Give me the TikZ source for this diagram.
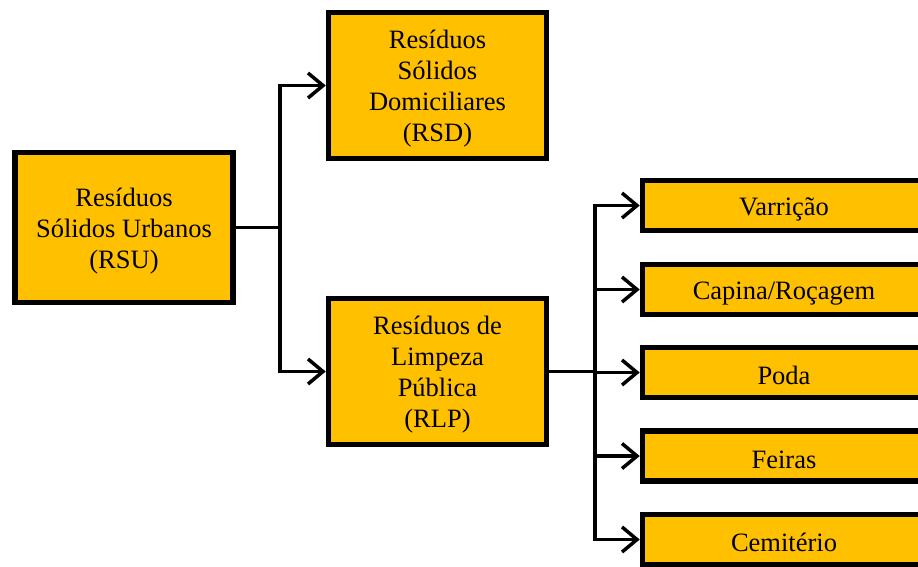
\documentclass[tikz,border=0pt]{standalone}
\usepackage{fontspec}
\setmainfont{Liberation Serif}
\usetikzlibrary{arrows.meta,positioning}
\definecolor{boxorange}{HTML}{FFC000}
\newcommand{\topo}{\rule{0pt}{25pt}}

\begin{document}
\begin{tikzpicture}[x=1pt,y=-1pt,
    caixa/.style={rectangle, draw, fill=boxorange, line width=5.5pt, align=center,
      font=\fontsize{26.5}{31}\selectfont, inner sep=0pt},
    caixagrande/.style={caixa, minimum width=218pt},
    caixafina/.style={caixa, minimum height=50pt, minimum width=283pt,
      execute at begin node={\rule{0pt}{25pt}}},
    seta/.style={line width=3.5pt, -{Straight Barb[length=15pt,width=25pt,line width=3.5pt]}}]
    \useasboundingbox (0,0) rectangle (918,566);
    \node(rsu) [caixagrande, minimum height=150pt] at (124,227.5) {\topo Resíduos\\Sólidos Urbanos\\(RSU)};
    \node(rsd) [caixagrande, minimum height=146pt] at (437.5,85.5) {\topo Resíduos\\Sólidos\\Domiciliares\\(RSD)};
    \node(rlp) [caixagrande, minimum height=146pt] at (437.5,371.5) {\topo Resíduos de\\Limpeza\\Pública\\(RLP)};
    \node(varricao) [caixafina] at (784,205.5) {Varrição};
    \node(capina) [caixafina] at (784,289.5) {Capina/Roçagem};
    \node(poda) [caixafina] at (784,372.5) {Poda};
    \node(feiras) [caixafina] at (784,456) {Feiras};
    \node(cemiterio) [caixafina] at (784,539.5) {Cemitério};
    \coordinate(j1) at (280,227.5);
    \coordinate(j2) at (595,371.5);
    \draw[line width=3.5pt] (rsu.east) -- (j1);
    \draw[seta] (j1) |- (rsd.west);
    \draw[seta] (j1) |- (rlp.west);
    \draw[line width=3.5pt] (rlp.east) -- (j2);
    \draw[seta] (j2) |- (varricao.west);
    \draw[seta] (j2) |- (capina.west);
    \draw[seta] (j2) |- (poda.west);
    \draw[seta] (j2) |- (feiras.west);
    \draw[seta] (j2) |- (cemiterio.west);
  \end{tikzpicture}
\end{document}
